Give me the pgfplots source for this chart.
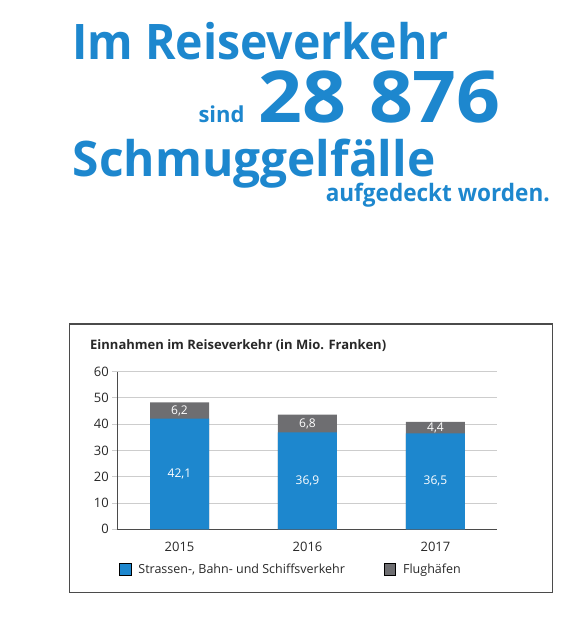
\documentclass[border=0pt]{standalone}
\usepackage{graphicx}
\usepackage{pgfplots}
\pgfplotsset{compat=1.18}
\usepackage{pgfplotstable}
\usepackage{fontspec}
\setmainfont{Open Sans}
\definecolor{zblue}{RGB}{29,135,206}
\definecolor{zgray}{RGB}{110,110,113}
\definecolor{gridc}{RGB}{205,205,205}
\definecolor{axc}{RGB}{75,75,75}
\definecolor{txt}{RGB}{40,40,40}
\pgfplotstableread{
x year road air
0 2015 42.1 6.2
1 2016 36.9 6.8
2 2017 36.5 4.4
}\datatab
\begin{document}
\begin{tikzpicture}
\useasboundingbox (0pt,0pt) rectangle (582pt,631pt);
% headline
\node[anchor=base west, inner sep=0pt, text=zblue, font=\bfseries\fontsize{49}{50}\selectfont] at (72pt,571pt) {\scalebox{0.947}[1]{Im Reiseverkehr}};
\node[anchor=base west, inner sep=0pt, text=zblue, font=\bfseries\fontsize{22}{24}\selectfont] at (198.3pt,508.3pt) {sind};
\node[anchor=base west, inner sep=0pt, text=zblue, font=\bfseries\fontsize{71.5}{74}\selectfont] at (258pt,508.3pt) {\scalebox{1.075}[1]{28\hspace{0.3em}876}};
\node[anchor=base west, inner sep=0pt, text=zblue, font=\bfseries\fontsize{49}{50}\selectfont] at (72.7pt,454.3pt) {\scalebox{0.976}[1]{Schmuggelfälle}};
\node[anchor=base east, inner sep=0pt, text=zblue, font=\bfseries\fontsize{24}{26}\selectfont] at (550pt,429.3pt) {\scalebox{0.94}[1]{aufgedeckt worden.}};
% frame
\draw[axc, line width=1.1pt] (69.5pt,38.3pt) rectangle (552.7pt,307pt);
\node[anchor=base west, inner sep=0pt, text=txt, font=\bfseries\fontsize{13}{15}\selectfont] at (90pt,281.7pt) {Einnahmen im Reiseverkehr (in Mio. Franken)};
\begin{axis}[
  at={(117.3pt,101.7pt)}, anchor=south west,
  scale only axis, width=380pt, height=157.6pt,
  xmin=-0.486, xmax=2.483, ymin=0, ymax=60,
  axis x line*=bottom, axis y line*=left,
  axis line style={axc, line width=1pt, -},
  ytick={0,10,...,60}, ymajorgrids,
  grid style={gridc, line width=1pt},
  ytick pos=left, tick align=outside, major tick length=5pt,
  y tick style={gridc, line width=1pt},
  xtick={0,1,2}, xticklabels={2015,2016,2017},
  x tick style={draw=none},
  xticklabel style={yshift=-4pt},
  tick label style={font=\fontsize{13}{15}\selectfont, text=txt},
  /pgf/number format/assume math mode=true,
  legend style={at={(0.0045,-0.253)}, anchor=west, draw=none, fill=none,
    inner sep=0pt, font=\fontsize{12.5}{14}\selectfont, text=txt,
    legend columns=2, /tikz/every even column/.append style={column sep=37pt}},
  legend cell align=left,
  legend image code/.code={\draw[#1] (0pt,-5.75pt) rectangle (11.5pt,5.75pt); \path (17pt,0pt);},
]
\addplot[ybar, bar width=59pt, bar shift=0pt, fill=zgray, draw=none, forget plot]
  table[x=x, y expr=\thisrow{road}+\thisrow{air}] {\datatab};
\addplot[ybar, bar width=59pt, bar shift=0pt, fill=zblue, draw=none, forget plot]
  table[x=x, y=road] {\datatab};
\addplot[draw=none, mark=none, forget plot, point meta=explicit,
  nodes near coords={\pgfmathprintnumber[fixed,fixed zerofill,precision=1,use comma,assume math mode=true]{\pgfplotspointmeta}},
  every node near coord/.append style={anchor=center, text=white, font=\fontsize{12}{14}\selectfont}]
  table[x=x, y expr=\thisrow{road}/2, meta=road] {\datatab};
\addplot[draw=none, mark=none, forget plot, point meta=explicit,
  nodes near coords={\pgfmathprintnumber[fixed,fixed zerofill,precision=1,use comma,assume math mode=true]{\pgfplotspointmeta}},
  every node near coord/.append style={anchor=center, text=white, font=\fontsize{12}{14}\selectfont}]
  table[x=x, y expr=\thisrow{road}+\thisrow{air}/2, meta=air] {\datatab};
\addlegendimage{fill=zblue, draw=none}
\addlegendentry{Strassen-, Bahn- und Schiffsverkehr}
\addlegendimage{fill=zgray, draw=none}
\addlegendentry{Flughäfen}
\end{axis}
\end{tikzpicture}
\end{document}
